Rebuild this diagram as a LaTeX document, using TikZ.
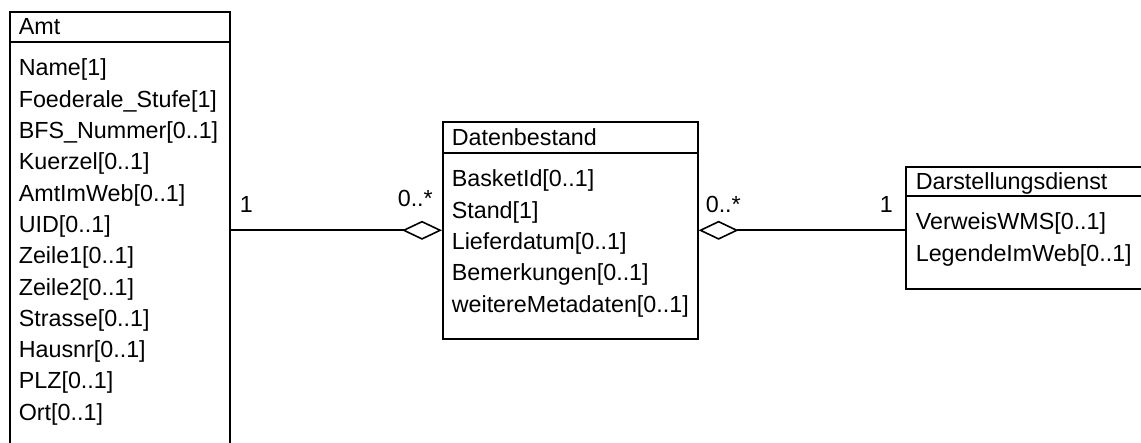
\documentclass[tikz,border=0pt]{standalone}
\usepackage{fontspec}
\setmainfont{Liberation Sans}
\usetikzlibrary{arrows.meta}
\usetikzlibrary{positioning}

\begin{document}
\begin{tikzpicture}[x=1pt,y=-1pt,line width=1.6pt,
        font=\fontsize{23.3}{31}\selectfont,
        box/.style={draw=black,anchor=north west,inner sep=0pt},
        txt/.style={anchor=base west,inner sep=0pt},
        aggr/.style={{Diamond[open,length=40pt,width=19pt]}-}]

            \useasboundingbox (0,0) rectangle (1141,443);
            \clip (0,0) rectangle (1141,443);

            % Klassen
            \node[box,minimum width=220pt,minimum height=438pt] (amt) at (9,11) {};
            \node[box,minimum width=255pt,minimum height=217pt] (dat) at (442,121) {};
            \node[box,minimum width=260pt,minimum height=122pt] (dst) at (905,166) {};

            % Trennlinien unter den Namen
            \draw ([yshift=-31pt]amt.north west) -- ([yshift=-31pt]amt.north east);
            \draw ([yshift=-32pt]dat.north west) -- ([yshift=-32pt]dat.north east);
            \draw ([yshift=-30pt]dst.north west) -- ([yshift=-30pt]dst.north east);

            % Namen
            \node[txt] (amt-name) at (18,35) {Amt};
            \node[txt] (dat-name) at (451,146) {Datenbestand};
            \node[txt] (dst-name) at (915,190) {Darstellungsdienst};

            % Attribute
            \foreach \a [count=\i from 0] in {Name[1],Foederale\_Stufe[1],BFS\_Nummer[0..1],
                Kuerzel[0..1],AmtImWeb[0..1],UID[0..1],Zeile1[0..1],Zeile2[0..1],
                Strasse[0..1],Hausnr[0..1],PLZ[0..1],Ort[0..1]}
                \node[txt] (amt-\i) at (18,{76+31.3*\i}) {\a};
            \foreach \a [count=\i from 0] in {BasketId[0..1],Stand[1],Lieferdatum[0..1],
                Bemerkungen[0..1],weitereMetadaten[0..1]}
                \node[txt] (dat-\i) at (451,{187+31.3*\i}) {\a};
            \foreach \a [count=\i from 0] in {VerweisWMS[0..1],LegendeImWeb[0..1]}
                \node[txt] (dst-\i) at (915,{230+31.3*\i}) {\a};

            % Aggregationen
            \draw[aggr] (dat.west) -- (amt.east |- dat.west);
            \draw[aggr] (dat.east) -- (dat.east -| dst.west);

            % Multiplizitaeten
            \node[txt] (m-amt) at (239,213) {1};
            \node[txt] (m-dat1) at (397,207) {0..*};
            \node[txt] (m-dat2) at (705,213) {0..*};
            \node[txt] (m-dst) at (879,213) {1};

        \end{tikzpicture}
\end{document}
